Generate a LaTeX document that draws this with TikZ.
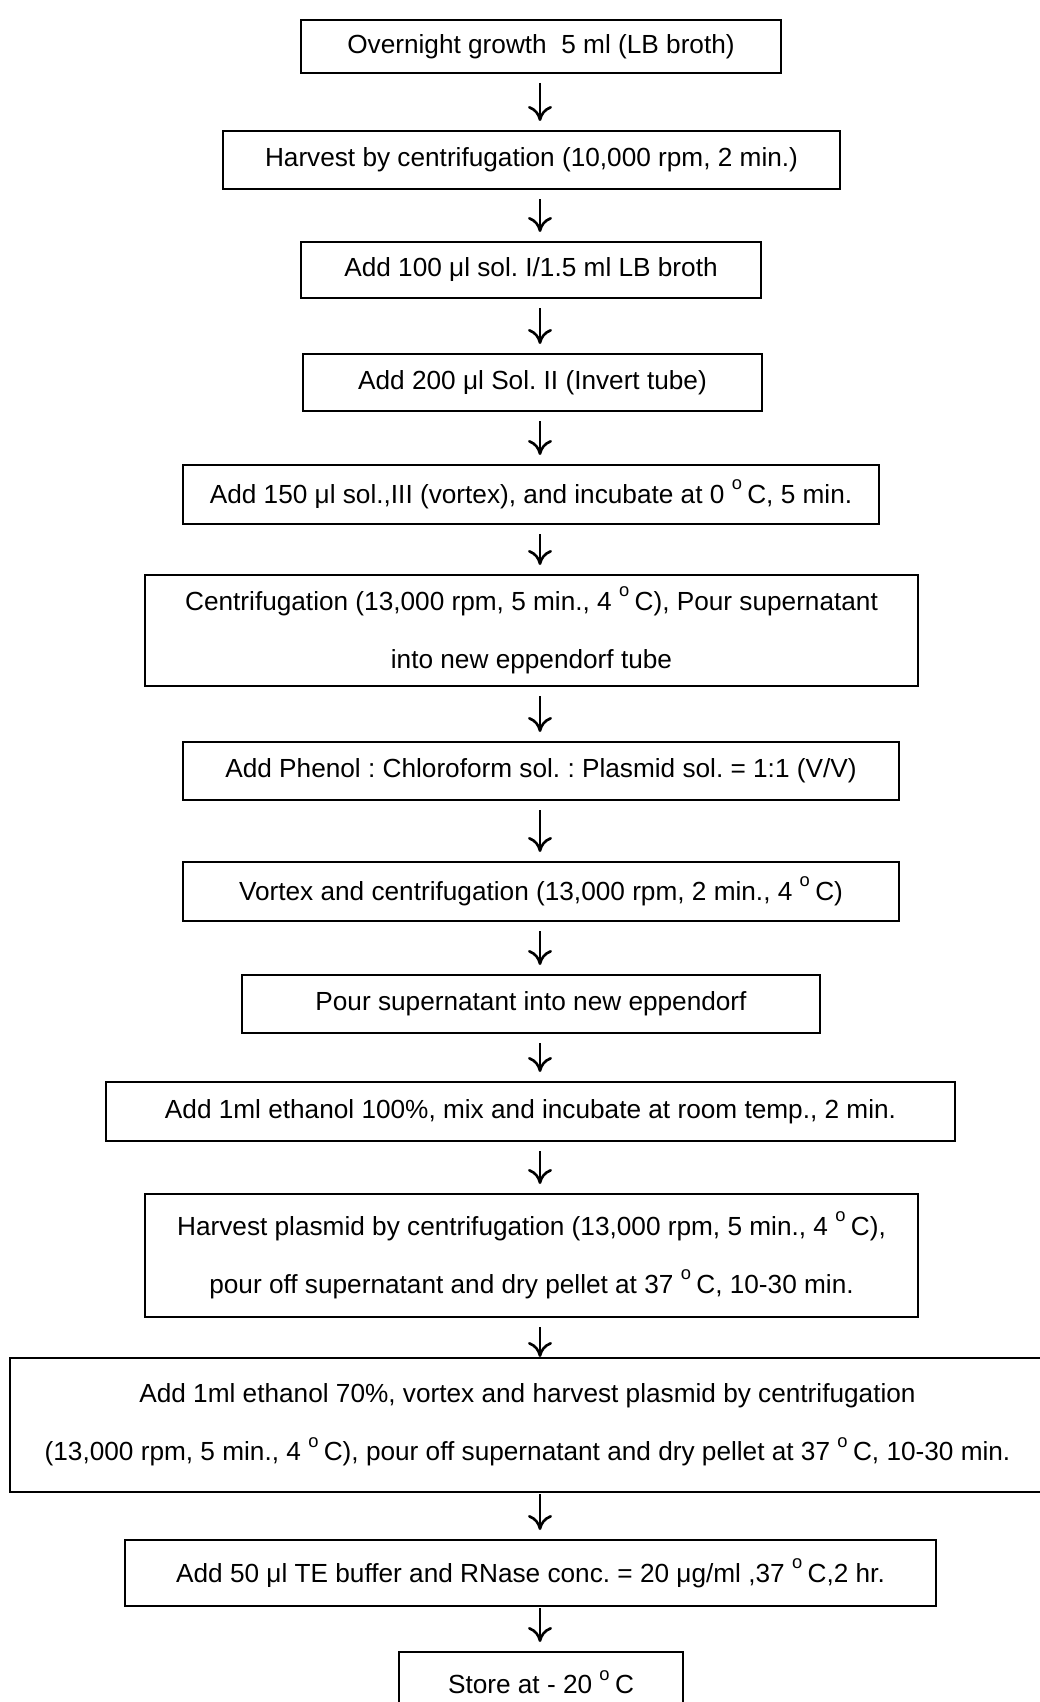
\documentclass[tikz,border=0pt]{standalone}
\usepackage{fontspec}
\setmainfont{Liberation Sans}
\usetikzlibrary{arrows.meta,calc}
\newcommand{\degO}{\raisebox{0.35ex}{\textsuperscript{o}}\,}
\newcommand{\mybox}[6]{\node[box, minimum width={(#3-#2)*0.5pt}, minimum height={(#5-#4)*0.5pt}] (#1) at ({(#2+#3)/2},{(#4+#5)/2}) {#6};}
\frenchspacing
\begin{document}
\begin{tikzpicture}[x=0.5pt,y=-0.5pt,
  box/.style={draw, line width=1pt, inner sep=0pt, align=center, font=\fontsize{13.1}{29}\selectfont\frenchspacing},
  arr/.style={-{Computer Modern Rightarrow[length=7.5pt,width=12pt,line width=1.3pt]}, line width=0.9pt, shorten <=4.5pt, shorten >=4.5pt}]
\useasboundingbox (0,0) rectangle (1039,1702);
\fill[white] (0,0) rectangle (1039,1702);
\coordinate (ax) at (540,0);
\mybox{b1}{301}{781}{20}{73}{Overnight growth\ \ 5 ml (LB broth)}
\mybox{b2}{223}{840}{131}{189}{Harvest by centrifugation (10,000 rpm, 2 min.)}
\mybox{b3}{301}{761}{242}{298}{Add 100 μl sol. I/1.5 ml LB broth}
\mybox{b4}{303}{762}{354}{411}{Add 200 μl Sol. II (Invert tube)}
\mybox{b5}{183}{879}{465}{524}{Add 150 μl sol.,III (vortex), and incubate at 0 \degO C, 5 min.}
\mybox{b6}{145}{918}{575}{686}{Centrifugation (13,000 rpm, 5 min., 4 \degO C), Pour supernatant\\into new eppendorf tube}
\mybox{b7}{183}{899}{742}{800}{Add Phenol : Chloroform sol. : Plasmid sol. = 1:1 (V/V)}
\mybox{b8}{183}{899}{862}{921}{Vortex and centrifugation (13,000 rpm, 2 min., 4 \degO C)}
\mybox{b9}{242}{820}{975}{1033}{Pour supernatant into new eppendorf}
\mybox{b10}{106}{955}{1082}{1141}{Add 1ml ethanol 100\%, mix and incubate at room temp., 2 min.}
\mybox{b11}{145}{918}{1194}{1317}{Harvest plasmid by centrifugation (13,000 rpm, 5 min., 4 \degO C),\\pour off supernatant and dry pellet at 37 \degO C, 10-30 min.}
\mybox{b12}{10}{1045}{1358}{1492}{Add 1ml ethanol 70\%, vortex and harvest plasmid by centrifugation\\(13,000 rpm, 5 min., 4 \degO C), pour off supernatant and dry pellet at 37 \degO C, 10-30 min.}
\mybox{b13}{125}{936}{1540}{1606}{Add 50 μl TE buffer and RNase conc. = 20 μg/ml ,37 \degO C,2 hr.}
\mybox{b14}{399}{683}{1652}{1712}{Store at - 20 \degO C}
\draw[arr] (b1.south -| ax) -- (b2.north -| ax);
\draw[arr] (b2.south -| ax) -- (b3.north -| ax);
\draw[arr] (b3.south -| ax) -- (b4.north -| ax);
\draw[arr] (b4.south -| ax) -- (b5.north -| ax);
\draw[arr] (b5.south -| ax) -- (b6.north -| ax);
\draw[arr] (b6.south -| ax) -- (b7.north -| ax);
\draw[arr] (b7.south -| ax) -- (b8.north -| ax);
\draw[arr] (b8.south -| ax) -- (b9.north -| ax);
\draw[arr] (b9.south -| ax) -- (b10.north -| ax);
\draw[arr] (b10.south -| ax) -- (b11.north -| ax);
\draw[arr, shorten >=0pt] (b11.south -| ax) -- (b12.north -| ax);
\draw[arr, shorten <=0.5pt] (b12.south -| ax) -- (b13.north -| ax);
\draw[arr, shorten <=0.5pt] (b13.south -| ax) -- (b14.north -| ax);
\end{tikzpicture}
\end{document}
